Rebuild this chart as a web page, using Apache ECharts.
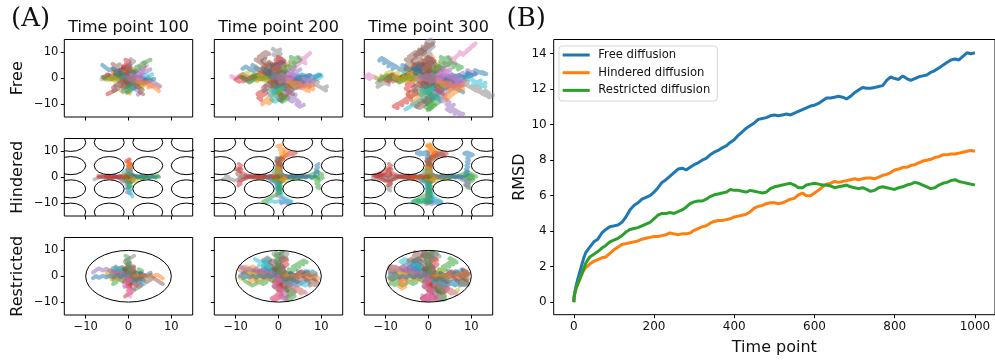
<!DOCTYPE html>
<html><head><meta charset="utf-8">
<script src="https://cdn.jsdelivr.net/npm/echarts@6/dist/echarts.min.js"></script>
<style>html,body{margin:0;padding:0;background:#fff}#c{width:995px;height:362px}</style>
</head><body><div id="c"></div>
<script>
// ---------- Panel A data ----------
const panelTimes = [100, 200, 300];          // column titles (time point)
const trajStep = 10;                          // time points between stored positions
const rowNames = ['Free', 'Hindered', 'Restricted'];
const tab10 = ['#1f77b4','#ff7f0e','#2ca02c','#d62728','#9467bd','#8c564b','#e377c2','#7f7f7f','#bcbd22','#17becf'];

// free diffusion: 1D coordinate walks (positions every 10 time points)
const FW1 = [0,0.8,1.5,0.9,1.7,2.6,2.1,1.2,1.9,2.8,2.2,3.1,4.0,3.3,2.5,3.2,4.1,4.9,4.2,5.0,5.9,5.1,4.3,5.2,6.0,6.8,6.1,7.0,7.9,7.2,8.1];
const FW2 = [0,-0.6,-1.4,-0.7,-1.5,-2.4,-1.8,-2.7,-3.5,-2.9,-3.8,-3.1,-2.3,-3.0,-2.2,-1.4,-2.1,-1.3,-0.5,-1.2,-0.4,0.4,-0.3,0.5,1.3,0.6,1.4,2.2,1.5,2.3,3.1];
const FW3 = [0,0.5,-0.4,0.3,1.1,0.4,-0.5,-1.2,-0.4,0.5,-0.3,-1.1,-0.3,0.6,1.4,0.7,1.6,2.3,1.5,0.8,1.7,2.5,1.8,1.0,0.2,0.9,0.1,-0.7,0.2,-0.6,0.3];
const FW4 = [0,-1.0,-0.3,-1.1,-1.9,-1.2,-2.0,-1.3,-0.5,-1.3,-2.1,-2.9,-2.2,-3.0,-3.8,-3.1,-2.4,-3.2,-2.5,-1.7,-2.6,-3.4,-4.2,-3.5,-4.3,-5.1,-4.4,-3.6,-4.5,-5.3,-4.6];
const FW5 = [0,0.9,0.2,1.0,1.9,2.7,3.4,2.6,3.5,4.3,3.6,4.5,5.3,6.1,5.4,6.3,5.5,4.8,5.7,6.6,7.4,8.1,7.3,8.2,9.0,9.8,9.1,10.0,10.8,10.1,11.0];
const FW6 = [0,-0.4,0.5,1.2,0.4,-0.4,0.3,1.1,0.3,-0.5,-1.3,-0.6,-1.4,-2.2,-1.5,-0.7,-1.6,-0.8,0.0,-0.8,-1.7,-2.5,-3.3,-2.6,-3.4,-2.7,-3.6,-4.4,-5.2,-4.5,-5.4];
const FW7 = [0,1.2,0.5,1.3,0.6,1.4,2.2,1.5,2.4,1.7,0.9,1.8,2.6,3.3,2.5,1.7,2.6,3.4,4.2,3.5,4.3,3.6,2.8,3.7,4.5,3.8,3.0,2.2,3.1,3.9,3.2];
const FW8 = [0,-0.7,-1.6,-2.3,-1.5,-2.4,-3.2,-4.0,-3.3,-4.2,-5.0,-5.8,-5.1,-6.0,-6.8,-7.5,-6.7,-7.6,-8.4,-9.1,-8.3,-9.2,-10.0,-9.3,-10.1,-11.0,-10.2,-11.1,-11.9,-11.2,-12.0];
const FW9 = [0,0.3,1.1,0.4,1.2,2.0,2.9,3.7,3.0,2.2,3.1,3.9,3.1,2.4,1.6,2.4,1.6,0.8,0.0,0.8,0.0,-0.8,-1.6,-0.8,-1.6,-2.4,-3.2,-2.4,-3.2,-4.0,-4.8];
const FW10 = [0,-0.9,-0.1,-0.9,-0.2,0.6,-0.2,-1.0,-1.8,-1.1,-0.3,0.5,-0.3,-1.1,-0.4,0.4,1.2,0.5,-0.3,0.4,1.3,2.1,1.3,0.6,1.4,2.2,3.1,2.3,1.6,2.4,1.7];
const FW11 = [0,0.6,1.4,2.1,2.9,2.2,1.4,2.2,3.0,3.8,4.6,3.9,3.1,2.3,3.1,3.9,4.7,5.6,4.8,4.0,3.2,4.1,4.9,5.7,5.0,4.2,3.4,4.3,5.1,4.3,3.5];
const FW12 = [0,-1.1,-1.9,-1.2,-2.0,-2.8,-3.6,-2.9,-2.1,-2.9,-3.7,-4.5,-5.3,-4.6,-3.8,-4.6,-3.8,-3.0,-3.8,-3.0,-2.2,-1.4,-2.2,-1.4,-0.6,-1.4,-0.6,0.2,-0.6,0.2,1.0];
const FW13 = [0,0.7,-0.1,-0.9,-0.2,0.6,1.4,0.7,-0.1,0.7,1.5,0.8,0.0,-0.8,-1.6,-0.9,-0.1,0.7,1.5,0.8,0.0,-0.8,-1.6,-2.4,-1.7,-0.9,-1.7,-2.5,-3.3,-2.6,-1.8];
const FW14 = [0,-0.5,0.3,-0.5,-1.3,-2.1,-1.4,-0.6,-1.4,-2.2,-3.0,-2.3,-1.5,-0.7,-1.5,-2.3,-3.1,-3.9,-4.7,-4.0,-3.2,-4.0,-4.8,-5.6,-6.4,-5.7,-4.9,-5.7,-6.5,-7.3,-6.6];
const FW15 = [0,1.0,1.8,1.1,0.3,1.1,1.9,2.7,3.5,2.8,2.0,2.8,3.6,4.4,5.2,4.5,5.3,6.1,5.4,6.2,5.5,4.7,5.5,4.7,3.9,4.7,3.9,3.1,3.9,3.1,2.3];
const FW16 = [0,-0.3,-1.1,-0.4,0.4,-0.4,-1.2,-2.0,-1.3,-0.5,0.3,-0.5,-1.3,-2.1,-2.9,-2.2,-1.4,-2.2,-3.0,-3.8,-3.1,-2.3,-1.5,-2.3,-3.1,-2.4,-1.6,-0.8,-1.6,-2.4,-1.7];
const FW17 = [0,-1.2,-2.0,-1.3,-2.4,-3.3,-4.1,-3.5,-4.6,-5.5,-6.3,-7.1,-6.4,-7.5,-8.3,-9.0,-8.2,-9.3,-10.1,-11.0,-10.3,-11.2,-12.0,-12.9,-12.1,-13.0,-13.8,-13.1,-14.0,-14.6,-13.8];
const FW18 = [0,1.1,2.0,2.8,2.1,3.2,4.0,4.9,5.6,6.5,7.4,6.6,7.5,8.3,9.2,8.5,9.4,10.3,11.1,10.4,11.3,12.1,11.4,12.3,13.1,12.4,13.3,14.1,13.4,14.2,15.0];
const FW19 = [0,-0.9,-0.1,-1.0,-1.9,-2.8,-2.1,-3.0,-3.9,-4.8,-5.6,-4.9,-5.8,-6.6,-5.9,-6.8,-7.7,-7.0,-7.9,-8.8,-8.1,-9.0,-9.9,-9.2,-10.1,-11.0,-10.3,-11.2,-10.5,-11.4,-12.3];
const FW20 = [0,0.8,1.7,2.6,3.4,2.7,3.6,4.5,5.3,4.6,5.5,6.4,7.2,6.5,7.4,8.3,9.1,8.4,9.3,10.1,9.4,10.3,11.1,10.4,11.3,12.2,11.5,12.4,13.2,12.5,13.3];
const FW21 = [0,0.4,-0.5,0.3,-0.6,0.2,1.1,0.3,1.2,0.4,-0.4,0.5,-0.3,0.6,-0.2,0.7,1.6,0.8,-0.1,0.8,0.0,-0.9,-0.1,0.8,-0.1,0.7,-0.2,0.6,1.5,0.7,-0.2];
const FW22 = [0,-0.5,0.4,-0.4,0.5,1.3,0.5,-0.4,0.4,1.3,0.5,-0.3,0.6,-0.3,-1.2,-0.4,0.5,-0.4,0.4,-0.5,-1.3,-0.5,0.4,1.2,0.4,-0.5,0.3,1.2,0.4,-0.4,0.5];
const FW23 = [0,1.3,0.6,1.8,2.9,2.1,3.3,4.4,3.7,4.9,6.0,5.2,6.4,7.3,6.6,5.8,7.0,8.1,7.4,8.6,9.7,9.0,10.1,9.3,10.5,11.6,10.9,12.0,13.1,12.4,13.5];
const FW24 = [0,-1.3,-0.5,-1.7,-2.8,-2.0,-3.2,-4.3,-5.4,-4.6,-5.8,-6.9,-6.1,-7.2,-8.3,-7.5,-8.6,-9.7,-8.9,-10.0,-9.2,-10.1,-9.3,-8.5,-9.4,-8.6,-7.8,-8.7,-7.9,-7.1,-6.3];
const FW25 = [0,-0.9,-1.8,-1.1,-2.3,-3.1,-2.6,-3.7,-4.5,-5.4,-6.1,-5.3,-6.2,-5.5,-4.8,-5.7,-6.6,-5.9,-6.8,-7.6,-8.4,-7.7,-8.6,-9.4,-8.8,-9.7,-10.4,-9.8,-10.7,-11.5,-10.9];
const FW26 = [0,0.9,1.9,2.6,3.6,4.3,5.1,4.6,5.6,6.4,7.1,6.5,7.3,8.1,7.4,8.2,7.5,6.7,7.5,6.7,5.9,6.7,5.9,5.1,5.9,5.1,4.3,5.1,4.3,3.5,4.3];
const FW27 = [0,-0.4,0.6,1.3,0.5,1.4,0.7,-0.2,0.6,-0.3,0.5,1.4,0.6,-0.3,0.5,-0.4,-1.2,-0.4,-1.3,-0.5,0.4,-0.5,0.3,-0.6,0.2,1.1,0.2,1.0,0.1,-0.8,0.1];
const FW28 = [0,0.6,-0.3,0.4,-0.5,-1.3,-0.5,0.3,-0.6,0.2,-0.7,0.1,0.9,0.0,0.8,-0.1,0.7,-0.2,0.6,1.4,0.5,-0.3,0.6,-0.2,-1.1,-0.3,-1.2,-0.4,0.4,-0.5,0.3];
const FW29 = [0,1.0,0.4,1.5,2.4,1.8,2.9,3.8,3.1,4.2,5.1,4.4,3.6,4.5,3.8,2.9,3.7,2.8,3.6,4.5,3.7,4.6,5.5,4.7,5.6,6.5,5.8,6.7,7.6,6.9,7.8];
const FW30 = [0,-1.0,-0.3,-1.4,-2.3,-1.6,-2.7,-3.6,-2.9,-4.0,-4.9,-4.2,-3.4,-4.3,-3.6,-2.8,-3.7,-2.9,-3.8,-4.7,-4.0,-4.9,-5.8,-5.0,-5.9,-6.8,-6.1,-7.0,-7.9,-7.2,-8.1];
const FW31 = [0,0.5,1.3,0.6,1.5,2.3,1.6,2.5,3.3,2.6,3.4,2.7,1.9,2.7,1.9,1.1,1.9,1.1,0.3,1.1,0.3,-0.5,0.3,-0.5,-1.3,-0.5,-1.3,-2.1,-1.3,-2.1,-2.9];
const FW32 = [0,-0.6,-1.2,-0.5,-1.6,-2.2,-1.7,-2.6,-3.1,-2.5,-3.5,-2.8,-2.0,-2.6,-1.8,-1.2,-2.0,-1.0,-0.4,-1.2,-0.2,0.6,-0.1,0.6,1.2,0.4,1.4,2.0,1.2,2.2,2.8];
const freeTraj = [[FW1,FW6],[FW2,FW7],[FW3,FW8],[FW4,FW9],[FW5,FW10],[FW6,FW11],[FW7,FW12],[FW8,FW13],
                  [FW9,FW14],[FW10,FW15],[FW11,FW16],[FW12,FW1],[FW13,FW2],[FW14,FW3],[FW15,FW4],[FW16,FW5],
                  [FW17,FW21],[FW22,FW18],[FW19,FW3],[FW20,FW13],[FW23,FW10],[FW16,FW24],[FW21,FW19],[FW24,FW22],
                  [FW1,FW17],[FW12,FW20],[FW5,FW23],[FW18,FW14],[FW9,FW2],[FW6,FW8],[FW13,FW15],[FW3,FW11],
                  [FW25,FW27],[FW28,FW26],[FW29,FW31],[FW31,FW25],[FW26,FW32],[FW27,FW29],[FW30,FW28],[FW32,FW30],
                  [FW25,FW29],[FW26,FW30],[FW29,FW26],[FW30,FW25],[FW27,FW21],[FW28,FW32],[FW31,FW27],[FW22,FW28]];

// hindered diffusion: "x,y" positions every 10 time points
const hinderedTraj = [
"0,0 0.6,-0.4 1.3,0.3 0.7,0.9 1.5,0.4 2.3,-0.2 3.0,0.5 3.8,-0.1 3.2,-0.7 2.5,-0.2 1.8,0.6 1.1,0.1 0.4,0.8 -0.3,0.2 0.2,-0.6 -0.5,-1.2 0.1,-1.9 -0.4,-2.6 0.3,-3.2 -0.2,-3.9 0.4,-4.6 -0.2,-5.3 0.5,-6.0 -0.3,-6.6 0.4,-7.3 -0.4,-7.9 0.6,-8.5 -0.5,-9.1 0.7,-9.6 -0.2,-9.9 1.0,-9.4",
"0,0 -0.5,0.6 0.3,1.2 -0.2,1.9 0.5,2.5 -0.3,3.1 0.4,3.8 -0.2,4.5 0.5,5.2 -0.3,5.9 0.4,6.6 -0.2,7.3 0.6,8.0 1.3,8.7 0.5,9.3 1.2,9.9 0.3,10.5 0.8,11.2 0.0,11.8 0.6,12.5 -0.3,12.0 0.4,11.4 1.1,10.8 0.5,10.1 1.3,9.5 2.0,9.1 1.4,8.6 0.7,9.2 -0.1,8.8 0.5,9.6 -0.2,10.2",
"0,0 0.7,0.3 1.4,-0.3 2.1,0.4 2.9,-0.2 3.6,0.5 4.3,-0.1 5.1,0.6 5.8,0.0 6.5,0.7 7.2,0.1 7.9,-0.5 8.6,0.2 9.3,-0.5 8.7,-1.2 9.4,-1.8 8.8,-2.5 9.5,-3.1 9.0,-3.8 9.6,-4.3 9.1,-3.6 8.5,-2.9 9.2,-2.3 9.9,-1.7 10.5,-1.0 9.8,-0.4 10.4,0.3 9.7,0.9 9.0,0.4 8.4,-0.3 7.8,0.3",
"0,0 0.4,0.8 -0.3,1.5 0.5,2.2 -0.2,2.9 0.6,3.5 -0.1,4.2 0.7,4.9 0.1,5.6 -0.6,6.3 0.2,7.0 0.9,7.6 1.7,8.1 2.5,8.7 3.3,9.2 2.6,9.6 3.4,8.9 4.1,9.4 3.3,8.7 2.5,9.3 1.8,8.6 1.1,9.1 1.8,9.7 2.6,9.2 3.5,9.6 4.3,9.1 3.6,8.5 2.9,9.0 2.2,8.4 1.5,8.9 0.8,8.3",
"0,0 -0.6,-0.5 0.2,-1.1 -0.4,-1.8 0.3,-2.4 -0.5,-3.0 0.2,-3.7 -0.5,-4.4 0.3,-5.1 -0.4,-5.8 0.4,-6.4 -0.3,-7.1 0.5,-7.7 1.2,-8.4 0.5,-9.0 1.3,-9.5 2.0,-9.1 2.8,-9.6 2.1,-10.1 1.4,-9.6 0.6,-10.2 -0.1,-9.7 0.7,-9.2 1.5,-9.8 2.3,-9.3 3.0,-9.9 2.3,-10.4 1.5,-9.9 0.8,-10.5 0.1,-10.0 -0.6,-10.5",
"0,0 -0.7,0.3 -1.4,-0.3 -2.1,0.4 -2.8,-0.2 -3.5,0.5 -4.2,-0.2 -4.9,0.5 -5.6,-0.1 -6.3,0.6 -7.0,0.0 -7.7,0.6 -8.4,0.0 -9.1,0.7 -9.7,1.4 -9.1,2.0 -9.6,2.7 -9.0,3.3 -9.5,2.5 -8.9,1.8 -9.6,1.1 -10.3,0.5 -11.0,1.1 -11.6,0.5 -10.9,-0.1 -10.2,0.6 -9.5,1.3 -8.8,0.7 -9.4,0.0 -10.1,-0.6 -9.4,-1.2",
"0,0 0.5,0.7 -0.2,1.3 -0.9,0.8 -1.5,0.2 -0.8,-0.4 -0.1,-0.9 0.6,-0.3 1.2,0.4 0.5,1.0 -0.2,0.5 -0.9,-0.1 -1.6,0.5 -2.3,-0.1 -1.7,-0.8 -1.0,-1.4 -0.4,-2.1 0.3,-2.7 -0.3,-3.4 0.4,-4.0 -0.2,-4.7 0.5,-5.3 -0.2,-6.0 0.5,-6.6 -0.3,-7.2 0.4,-7.9 -0.4,-8.5 -1.1,-9.0 -0.4,-9.6 0.3,-9.1 -0.5,-8.6",
"0,0 -0.8,-0.3 -1.6,0.3 -2.4,-0.3 -3.2,0.4 -4.0,-0.2 -4.8,0.4 -5.6,-0.3 -6.4,0.3 -7.2,-0.3 -8.0,-0.8 -8.8,-1.4 -9.5,-0.8 -10.3,-1.3 -11.0,-0.7 -11.7,-1.2 -12.4,-0.6 -13.0,-0.8 -12.3,-0.3 -11.6,0.1 -12.3,0.6 -13.0,0.0 -12.3,-0.6 -11.5,-0.1 -10.8,-0.7 -10.1,-0.2 -10.8,0.4 -11.5,-0.2 -12.2,0.4 -11.5,0.9 -10.8,0.3",
"0,0 0.8,0.3 1.6,-0.4 2.3,0.2 3.1,-0.5 3.9,0.1 4.7,-0.4 4.0,0.5 3.2,-0.1 2.4,0.6 1.6,-0.2 0.9,0.5 0.1,-0.3 -0.7,0.5 -1.4,-0.4 -2.2,0.3 -3.0,-0.5 -3.8,0.2 -4.6,-0.4 -5.4,0.3 -4.7,-0.5 -3.9,0.2 -3.1,-0.6 -2.3,0.1 -1.5,-0.5 -0.8,0.3 0.0,-0.4 0.8,0.4 1.6,-0.3 2.4,0.5 3.2,-0.2",
"0,0 0.3,-0.8 -0.4,-1.5 0.4,-2.2 -0.3,-2.9 0.5,-3.6 -0.2,-4.3 0.6,-5.0 -0.1,-5.7 0.7,-6.4 0.9,-7.6 1.6,-8.3 2.4,-8.8 3.1,-9.4 2.3,-9.9 1.6,-9.3 0.8,-9.8 0.0,-9.2 -0.8,-9.7 -1.5,-9.1 -2.3,-9.6 -3.0,-9.0 -3.8,-9.5 -3.1,-8.9 -2.3,-9.4 -1.5,-8.8 -0.7,-9.3 0.1,-8.8 0.9,-9.3 1.7,-8.8 1.0,-8.2",
"0,0 -0.6,0.5 -1.3,-0.1 -2.0,0.5 -2.7,0.0 -3.4,0.6 -2.7,0.1 -2.0,0.7 -1.3,0.2 -0.6,0.8 -0.1,1.5 0.5,2.1 -0.2,2.7 0.4,3.3 -0.3,3.9 0.4,4.5 -0.3,5.1 0.4,5.7 -0.4,6.3 0.3,6.9 -0.5,7.5 0.2,8.1 -0.6,8.7 -1.3,9.2 -2.1,8.7 -2.8,9.3 -2.1,9.8 -1.4,9.3 -0.7,9.8 0.0,9.3 -0.7,8.8",
"0,0 0.5,-0.6 1.2,0.0 0.6,0.6 -0.1,1.2 0.6,1.8 -0.1,2.4 0.6,3.0 -0.1,3.6 0.6,4.2 -0.1,4.8 0.6,5.4 -0.1,6.0 0.6,6.6 1.3,7.2 0.6,7.8 1.3,8.4 2.0,9.0 1.4,9.7 2.1,10.3 1.5,11.0 0.8,11.6 0.9,12.2 0.2,12.9 -0.4,12.3 0.3,11.7 1.0,11.1 0.4,10.5 1.1,9.9 1.8,9.4 1.1,8.8",
"0,0 0.7,-0.3 1.4,0.3 2.1,-0.3 2.8,0.3 3.5,-0.3 4.2,0.3 4.9,-0.3 5.6,0.3 6.3,-0.2 7.0,0.4 7.7,1.0 8.4,1.6 9.0,2.3 9.6,1.6 10.3,1.0 9.7,0.4 10.4,-0.2 9.8,-0.8 9.1,-0.2 8.4,0.4 7.7,0.9 8.4,1.5 9.1,0.9 9.8,1.5 10.5,0.9 11.2,0.3 10.5,-0.3 9.8,0.3 9.1,-0.3 8.4,0.3",
"0,0 -0.7,-0.4 -1.4,0.2 -2.1,-0.4 -2.9,0.3 -3.6,-0.3 -4.3,0.4 -5.0,-0.2 -5.7,0.5 -6.4,-0.1 -7.1,0.5 -7.8,1.1 -8.5,1.7 -9.2,2.4 -8.6,3.1 -9.3,3.8 -8.7,4.5 -9.3,5.2 -8.8,4.4 -9.4,3.6 -10.1,3.0 -10.6,2.2 -11.5,1.4 -12.2,1.0 -12.9,0.7 -12.2,0.1 -11.5,0.7 -10.8,1.3 -10.1,1.9 -9.4,2.5 -8.7,1.9",
"0,0 0.6,0.4 1.2,-0.2 0.5,-0.8 1.1,-1.4 0.4,-1.9 -0.3,-1.3 -1.0,-0.7 -1.7,-1.2 -1.1,-1.8 -0.4,-1.3 0.3,-0.7 1.0,-0.1 1.7,0.5 2.4,0.0 3.1,0.6 3.8,0.1 4.5,0.7 5.2,0.1 5.9,0.7 6.6,0.1 7.3,-0.5 8.0,-1.1 8.7,-1.7 9.3,-2.4 8.7,-3.1 9.3,-3.8 8.8,-3.0 9.4,-2.3 8.8,-1.6 9.5,-0.9",
"0,0 -0.3,0.7 0.4,1.3 1.0,0.8 1.6,0.2 1.0,-0.4 0.3,0.2 -0.4,-0.4 -1.1,0.2 -0.5,0.8 0.2,1.4 -0.4,2.0 0.3,2.6 -0.4,3.2 0.3,3.8 -0.4,4.4 0.4,5.0 -0.3,5.6 0.5,6.2 1.2,6.8 0.5,7.4 1.2,8.0 2.0,8.6 2.8,9.2 3.6,8.7 2.9,8.2 2.2,8.8 1.4,8.3 2.1,7.8 1.4,7.3 0.7,7.8",
"0,0 0.5,0.5 -0.2,1.0 -0.8,0.4 -1.3,-0.3 -0.7,-0.9 0.0,-0.4 0.6,-1.0 1.2,-0.4 0.6,0.2 -0.1,0.8 -0.7,1.4 -0.1,2.0 0.5,1.4 1.1,0.8 1.7,0.2 1.1,-0.4 0.4,-1.0 -0.3,-1.6 -1.0,-1.0 -1.7,-0.4 -2.4,0.2 -1.8,0.8 -1.1,0.3 -0.4,-0.3 0.3,0.3 1.0,-0.3 1.7,0.3 2.4,-0.3 3.1,0.3 3.8,-0.3",
"0,0 -0.5,-0.5 0.1,-1.1 0.7,-0.6 1.3,-1.2 0.7,-1.8 0.1,-1.3 -0.5,-1.9 -1.1,-1.3 -1.7,-0.7 -2.3,-0.1 -3.0,0.4 -3.7,-0.2 -4.4,0.4 -5.1,-0.2 -5.8,0.4 -6.5,-0.2 -7.2,0.4 -7.9,-0.2 -8.6,0.4 -9.2,-0.3 -8.6,-1.0 -9.2,-1.7 -8.7,-2.4 -9.3,-3.1 -8.8,-3.8 -9.4,-4.5 -8.9,-5.2 -9.5,-4.6 -9.0,-3.9 -9.6,-3.2",
"0,0 0.4,-0.6 -0.3,-1.1 -0.9,-0.5 -0.3,0.1 0.4,0.6 1.0,0.0 1.6,-0.6 2.2,-1.2 1.6,-1.8 0.9,-1.3 0.3,-0.7 -0.4,-0.1 -1.0,0.5 -0.4,1.1 0.3,1.7 -0.3,2.3 0.4,2.9 -0.3,3.5 -0.9,2.9 -0.3,2.3 0.4,1.7 1.0,1.1 1.6,0.5 2.2,-0.1 2.9,0.5 3.6,-0.1 4.3,0.5 5.0,-0.1 4.3,-0.7 3.6,-0.1",
"0,0 -0.6,0.3 -0.1,0.9 0.5,1.4 -0.1,2.0 0.6,2.6 -0.1,3.2 -0.7,2.6 -1.3,2.0 -0.7,1.4 -1.3,0.8 -2.0,0.3 -2.7,-0.3 -2.0,-0.8 -1.3,-1.4 -0.6,-2.0 0.1,-2.6 -0.5,-3.2 0.2,-3.8 -0.4,-4.4 0.3,-5.0 -0.4,-5.6 0.3,-6.2 1.0,-6.8 0.3,-7.4 1.0,-8.0 0.3,-8.6 -0.4,-9.2 -1.1,-8.7 -1.8,-9.3 -2.5,-8.8",
"0,0 0.3,0.7 1.0,1.1 1.5,0.5 2.2,0.0 2.9,0.5 3.6,-0.1 4.3,0.5 5.0,-0.1 5.7,0.5 6.4,-0.1 7.1,0.5 7.8,-0.1 8.5,0.5 9.2,1.1 8.6,1.7 9.2,2.4 8.7,3.1 9.3,3.8 8.8,4.5 9.4,5.2 8.9,5.9 9.5,6.6 9.0,7.3 9.6,8.0 9.0,8.7 8.3,9.2 9.0,9.7 9.7,9.2 10.4,8.7 9.7,8.2",
"0,0 -0.4,-0.6 0.3,-1.1 1.0,-0.6 0.4,0.0 -0.3,0.6 -1.0,1.1 -1.6,0.5 -1.0,-0.1 -0.4,-0.7 0.3,-1.2 1.0,-0.7 1.7,-0.2 1.0,0.4 0.3,1.0 -0.4,1.5 0.3,2.1 -0.4,2.7 0.3,3.3 -0.4,3.9 0.3,3.3 -0.3,2.7 0.4,2.1 -0.2,1.5 -0.9,0.9 -1.6,0.3 -2.3,-0.3 -3.0,0.3 -3.7,-0.3 -3.0,-0.9 -2.3,-0.3",
"0,0 0.6,0.2 0.0,0.8 -0.6,0.2 -1.2,-0.4 -0.6,-1.0 0.0,-1.6 0.6,-2.2 0.0,-2.8 0.6,-3.4 -0.1,-4.0 0.6,-4.6 -0.1,-5.2 0.6,-5.8 -0.1,-6.4 -0.8,-7.0 -1.5,-7.6 -2.2,-8.2 -2.9,-8.8 -3.6,-9.4 -2.9,-9.9 -2.2,-9.4 -1.5,-9.9 -0.8,-9.4 -0.1,-9.9 0.6,-9.4 -0.1,-8.9 -0.8,-8.4 -0.1,-7.9 0.6,-7.4 -0.1,-6.9",
"0,0 -0.5,0.4 -1.1,-0.1 -1.7,0.4 -2.3,-0.1 -2.9,0.4 -3.5,-0.2 -4.1,0.4 -4.7,-0.2 -5.3,0.4 -4.7,0.8 -5.3,0.4 -6.0,-0.1 -6.7,0.5 -7.4,-0.1 -8.1,-0.6 -8.8,-1.2 -9.4,-1.9 -8.8,-2.5 -9.4,-3.2 -8.8,-2.5 -9.5,-1.9 -10.2,-1.3 -10.9,-0.7 -11.6,-0.1 -12.3,0.5 -11.6,1.0 -10.9,0.5 -10.2,1.0 -9.5,0.4 -8.8,1.0"
];
// hindered obstacles (circle centres and radius, data units)
const obstacleX = [-13.5, -4.5, 4.5, 13.5];
const obstacleY = [-13.5, -4.5, 4.5, 13.5];
const obstacleR = 3.5;

// restricted diffusion: 1D coordinate walks
const RW1 = [0,0.8,1.6,0.9,1.8,2.6,3.4,2.7,3.6,4.4,5.2,4.5,5.4,6.2,7.0,6.3,7.1,7.9,8.6,7.9,8.7,9.2,8.5,7.7,8.5,9.1,8.4,7.6,8.3,9.0,8.2];
const RW2 = [0,-0.7,-1.5,-2.3,-1.6,-2.5,-3.3,-4.1,-3.4,-4.3,-5.1,-5.9,-5.2,-6.0,-6.8,-7.6,-6.9,-7.7,-8.5,-9.1,-8.4,-7.6,-8.3,-9.0,-8.2,-7.4,-8.1,-8.9,-9.2,-8.5,-7.7];
const RW3 = [0,0.6,-0.2,-1.0,-1.8,-1.1,-1.9,-2.7,-3.5,-2.8,-3.6,-4.4,-5.2,-4.5,-5.3,-6.1,-6.9,-6.2,-7.0,-7.8,-7.1,-7.9,-8.6,-7.9,-7.1,-6.3,-7.0,-7.8,-8.5,-9.0,-8.2];
const RW4 = [0,-0.5,0.3,1.1,1.9,1.2,2.0,2.8,3.6,2.9,3.7,4.5,3.8,4.6,5.4,6.2,5.5,6.3,7.1,6.4,7.2,8.0,8.7,8.0,8.8,9.3,8.6,7.8,7.1,7.9,8.6];
const RW5 = [0,-1.0,-1.9,-2.7,-3.6,-4.4,-5.2,-6.0,-6.9,-7.6,-8.3,-7.6,-8.4,-9.0,-8.3,-7.5,-8.2,-8.9,-8.1,-7.3,-8.0,-8.7,-9.2,-8.5,-7.7,-8.4,-9.1,-8.4,-7.6,-8.3,-9.0];
const RW6 = [0,0.9,1.8,2.6,3.5,4.3,5.0,5.8,6.6,7.3,8.0,7.3,8.1,8.8,8.1,7.3,8.0,8.7,9.3,8.6,7.8,8.5,9.2,8.5,7.7,8.4,9.1,8.4,7.6,8.3,9.0];
const RW7 = [0,0.7,1.5,2.4,3.2,4.1,4.9,5.6,6.4,7.2,7.9,8.6,7.9,8.7,9.2,8.5,7.7,8.4,9.1,8.3,7.5,8.2,8.9,8.1,7.3,8.0,8.8,9.3,8.6,7.8,8.5];
const RW8 = [0,-0.8,-1.6,-2.5,-3.3,-4.0,-4.8,-5.5,-6.3,-7.0,-7.8,-8.5,-7.8,-8.6,-9.2,-8.5,-7.7,-8.4,-9.1,-8.3,-7.6,-8.3,-9.0,-8.2,-7.5,-8.2,-8.9,-9.3,-8.6,-7.9,-8.6];
const RN1 = [0,0.7,-0.1,0.6,1.4,0.7,-0.1,-0.9,-0.2,0.6,1.3,2.1,1.4,0.6,1.3,2.0,1.2,0.4,1.1,1.9,1.1,0.3,-0.5,0.2,-0.6,-1.4,-0.7,0.1,-0.7,-1.5,-0.8];
const RN2 = [0,-0.8,-1.5,-0.7,-1.4,-2.2,-1.5,-0.7,-1.5,-2.3,-3.0,-2.2,-1.4,-2.1,-2.9,-3.6,-2.8,-3.5,-2.7,-1.9,-2.6,-3.4,-2.6,-1.8,-2.5,-3.2,-2.4,-1.6,-2.3,-3.0,-2.2];
const RN3 = [0,0.4,1.2,2.0,1.3,2.1,2.9,2.2,3.0,2.3,1.5,2.3,3.1,3.8,3.1,2.3,3.0,3.8,3.1,2.3,1.6,2.4,3.2,3.9,3.2,2.4,1.7,2.5,3.3,2.6,1.9];
const RN4 = [0,-0.3,0.5,-0.3,-1.1,-0.4,0.4,1.2,0.5,-0.3,0.4,-0.4,0.3,1.1,1.9,1.2,0.4,-0.4,-1.2,-0.5,0.3,1.1,1.9,2.6,1.9,1.1,0.4,-0.4,0.3,1.0,0.2];
const RN5 = [0,0.5,-0.3,0.4,-0.4,0.3,-0.5,0.2,-0.6,0.1,-0.7,0.0,0.8,0.1,0.9,0.2,1.0,0.3,-0.5,0.2,1.0,0.3,-0.5,-1.3,-0.6,0.2,-0.6,0.1,0.9,0.2,1.0];
const RN6 = [0,-0.4,0.4,-0.3,0.5,-0.2,0.6,-0.1,0.7,0.0,-0.8,0.0,-0.8,-1.6,-0.8,0.0,0.8,0.0,-0.8,0.0,0.8,1.6,0.8,0.0,0.8,1.6,0.8,0.0,-0.8,0.0,0.8];
const RM1 = [0,0.9,0.2,1.0,1.8,1.1,0.3,1.1,1.9,2.7,2.0,2.8,3.6,4.4,3.7,4.5,5.3,4.6,5.4,6.1,5.4,6.2,6.9,6.2,5.5,6.3,6.9,6.2,5.4,6.1,6.8];
const RM2 = [0,-0.6,-1.4,-0.7,-1.5,-2.3,-3.1,-2.4,-3.2,-4.0,-3.3,-4.1,-4.9,-4.2,-5.0,-5.8,-5.1,-5.9,-6.6,-5.9,-6.7,-6.0,-5.2,-6.0,-6.8,-6.1,-5.3,-6.1,-6.9,-6.2,-5.4];
const RM3 = [0,0.5,-0.3,-1.1,-0.4,-1.2,-2.0,-1.3,-2.1,-2.9,-3.7,-3.0,-2.2,-3.0,-3.8,-4.6,-3.9,-3.1,-3.9,-4.7,-5.5,-4.8,-5.6,-6.3,-5.6,-4.8,-4.1,-4.9,-5.7,-6.5,-5.8];
const RM4 = [0,-0.9,-0.2,0.6,1.4,2.2,1.5,2.3,3.1,2.4,3.2,4.0,3.3,4.1,4.9,4.2,5.0,5.8,5.1,5.9,6.6,5.9,5.1,5.8,6.5,5.8,5.0,5.7,6.4,5.7,4.9];
const RM5 = [0,0.3,1.1,0.4,-0.4,0.3,1.1,0.4,-0.4,-1.2,-0.5,0.3,1.1,0.4,-0.4,-1.2,-2.0,-1.3,-0.5,-1.3,-2.1,-2.9,-2.2,-3.0,-3.8,-3.1,-2.3,-3.1,-3.9,-4.7,-4.0];
const RM6 = [0,-0.4,0.4,1.2,0.5,-0.3,-1.1,-0.4,0.4,1.2,2.0,1.3,0.5,-0.3,0.4,1.2,2.0,2.8,2.1,1.3,2.1,2.9,3.7,3.0,2.2,3.0,3.8,4.6,3.9,3.1,3.9];
const restrictedTraj = [[RW1,RN1],[RW2,RN3],[RW3,RN2],[RW4,RN4],[RN1,RW2],[RN2,RW4],[RN3,RW3],[RN4,RW1],
                        [RM1,RM2],[RM3,RM4],[RM5,RM6],[RM2,RM5],[RM4,RM1],[RM6,RM3],[RM1,RN2],[RN4,RM3],
                        [RM2,RN1],[RN3,RM5],[RM6,RN4],[RN2,RM4],[RW1,RN4],[RW3,RN1],[RN3,RW2],[RN1,RW4],
                        [RM3,RM6],[RM5,RM1],[RM4,RM2],[RM6,RM5],[RW2,RN4],[RW4,RN2],
                        [RW5,RN5],[RW6,RN6],[RN5,RW7],[RN6,RW8],[RW5,RN3],[RW6,RN2],[RN4,RW8],[RN1,RW7]];
const boundaryR = 10;

// ---------- Panel B data ----------
const rmsdTime = [0,1,3,6,10,15,20,25,30,
 40,50,60,70,80,90,100,110,120,130, 140,150,160,170,180,190,200,210,220,230,
 240,250,260,270,280,290,300,310,320,330, 340,350,360,370,380,390,400,410,420,430,
 440,450,460,470,480,490,500,510,520,530, 540,550,560,570,580,590,600,610,620,630,
 640,650,660,670,680,690,700,710,720,730, 740,750,760,770,780,790,800,810,820,830,
 840,850,860,870,880,890,900,910,920,930, 940,950,960,970,980,990,1000];
const freeRmsd = [0,0.35,0.6,0.95,1.3,1.7,2.1,2.5,2.8,
 3.1,3.4,3.55,3.9,4.1,4.25,4.3,4.35,4.5,4.8, 5.2,5.45,5.6,5.8,5.9,6.0,6.2,6.45,6.75,6.9,
 7.1,7.3,7.5,7.55,7.45,7.6,7.75,7.85,8.0,8.1, 8.3,8.45,8.55,8.7,8.8,9.0,9.15,9.4,9.6,9.8,
 9.95,10.1,10.3,10.35,10.4,10.5,10.55,10.5,10.55,10.6, 10.55,10.65,10.75,10.85,10.95,11.05,11.1,11.2,11.35,11.5,
 11.5,11.55,11.6,11.55,11.45,11.6,11.8,11.95,12.1,12.05, 12.05,12.1,12.15,12.2,12.5,12.7,12.6,12.55,12.75,12.6,
 12.5,12.6,12.7,12.75,12.8,12.95,13.05,13.2,13.35,13.5, 13.65,13.7,13.65,13.85,14.05,14.0,14.05];
const hinderedRmsd = [0,0.3,0.55,0.8,1.0,1.3,1.55,1.8,1.95,
 2.15,2.3,2.4,2.5,2.55,2.75,2.95,3.1,3.25,3.3, 3.35,3.4,3.45,3.55,3.6,3.65,3.7,3.7,3.75,3.8,
 3.9,3.85,3.8,3.85,3.85,3.9,4.05,4.15,4.25,4.3, 4.45,4.55,4.6,4.6,4.65,4.7,4.8,4.85,4.9,4.95,
 5.1,5.3,5.4,5.45,5.55,5.6,5.6,5.55,5.6,5.7, 5.8,5.85,6.05,6.15,6.0,6.0,6.15,6.3,6.5,6.65,
 6.7,6.8,6.75,6.8,6.85,6.9,6.95,6.9,6.95,7.0, 7.0,6.95,7.05,7.15,7.2,7.3,7.45,7.5,7.6,7.6,
 7.7,7.75,7.85,7.95,8.0,8.05,8.15,8.2,8.3,8.3, 8.35,8.35,8.4,8.45,8.5,8.55,8.5];
const restrictedRmsd = [0,0.3,0.55,0.8,1.05,1.3,1.6,1.9,2.2,
 2.55,2.7,2.85,3.05,3.2,3.4,3.5,3.6,3.75,3.95, 4.1,4.15,4.2,4.3,4.4,4.5,4.7,4.9,5.0,5.0,
 5.05,5.0,5.1,5.2,5.35,5.55,5.65,5.7,5.7,5.8, 5.95,6.05,6.1,6.15,6.2,6.35,6.3,6.3,6.25,6.2,
 6.3,6.25,6.2,6.15,6.2,6.4,6.5,6.55,6.6,6.65, 6.7,6.6,6.45,6.45,6.6,6.65,6.7,6.65,6.6,6.6,
 6.55,6.45,6.5,6.55,6.6,6.5,6.45,6.4,6.45,6.35, 6.25,6.3,6.45,6.5,6.45,6.4,6.35,6.45,6.5,6.6,
 6.65,6.75,6.7,6.6,6.5,6.4,6.45,6.6,6.7,6.75, 6.85,6.9,6.8,6.75,6.7,6.65,6.6];
const seriesNames = ['Free diffusion', 'Hindered diffusion', 'Restricted diffusion'];
const seriesColors = ['#1f77b4', '#ff7f0e', '#2ca02c'];
const xTicksB = [0, 200, 400, 600, 800, 1000];
const yTicksB = [0, 2, 4, 6, 8, 10, 12, 14];
const ticksA = [-10, 0, 10];

// ---------- build ----------
const FONT = '"DejaVu Sans", sans-serif';
const minus = v => (v < 0 ? '\u2212' + (-v) : String(v));
const toPairs = s => s.split(' ').map(p => p.split(',').map(Number));
const zipXY = (xs, ys) => xs.map((x, i) => [x, ys[i]]);

const conditions = [
  freeTraj.map(t => zipXY(t[0], t[1])),
  hinderedTraj.map(toPairs),
  restrictedTraj.map(t => zipXY(t[0], t[1]))
];
const trajWidth = [4.2, 3.6, 4.0];
const obstacles = [];
obstacleX.forEach(cx => obstacleY.forEach(cy => obstacles.push([cx, cy, obstacleR])));
const boundary = [[0, 0, boundaryR]];

const gridLeft = [64.3, 214.3, 364.3], gridTop = [39.5, 138.5, 237.5];
const GW = 128.4, GH = 77.5;
const grids = [], xAxes = [], yAxes = [], series = [], graphics = [];

function circleItem(params, api) {
  const c = api.coord([api.value(0), api.value(1)]);
  const s = api.size([api.value(2), api.value(2)]);
  const rx = s[0], ry = s[1];
  return {
    type: 'path',
    shape: { pathData: `M${c[0]-rx} ${c[1]}A${rx} ${ry} 0 1 0 ${c[0]+rx} ${c[1]}A${rx} ${ry} 0 1 0 ${c[0]-rx} ${c[1]}Z` },
    style: { fill: 'none', stroke: '#000', lineWidth: 1 }
  };
}

for (let r = 0; r < 3; r++) {
  for (let c = 0; c < 3; c++) {
    const g = r * 3 + c;
    grids.push({ left: gridLeft[c], top: gridTop[r], width: GW, height: GH, show: true,
      borderColor: '#000', borderWidth: 1, backgroundColor: 'transparent', containLabel: false });
    const axisCommon = (showLabel) => ({
      type: 'value', gridIndex: g, min: -15, max: 15,
      axisLine: { show: false, onZero: false }, splitLine: { show: false },
      axisTick: { show: true, inside: false, length: 3.5, customValues: ticksA, lineStyle: { color: '#000', width: 1 } },
      axisLabel: { show: showLabel, customValues: ticksA, formatter: minus, fontFamily: FONT, fontSize: 11.5, color: '#111', margin: 6 }
    });
    xAxes.push(Object.assign(axisCommon(r === 2), { position: 'bottom' }));
    yAxes.push(Object.assign(axisCommon(c === 0), { position: 'left' }));
    const last = panelTimes[c] / trajStep;
    conditions[r].forEach((pts, k) => {
      series.push({
        type: 'line', xAxisIndex: g, yAxisIndex: g, data: pts.slice(0, last + 1),
        symbol: 'none', showSymbol: false, silent: true, z: 2, clip: true,
        lineStyle: { width: trajWidth[r], color: tab10[k % 10], opacity: 0.5, join: 'round', cap: 'round' }
      });
    });
    if (r > 0) {
      series.push({ type: 'custom', xAxisIndex: g, yAxisIndex: g, clip: true, silent: true, z: 4,
        data: r === 1 ? obstacles : boundary, renderItem: circleItem });
    }
  }
}
// panel titles and row labels
panelTimes.forEach((t, c) => graphics.push({ type: 'text', x: gridLeft[c] + GW / 2, y: 27.5,
  style: { text: 'Time point ' + t, font: '16px ' + FONT, fill: '#111', align: 'center', verticalAlign: 'middle' } }));
rowNames.forEach((n, r) => graphics.push({ type: 'text', x: 18, y: gridTop[r] + GH / 2, rotation: Math.PI / 2,
  style: { text: n, font: '16px ' + FONT, fill: '#111', align: 'center', verticalAlign: 'middle' } }));
graphics.push({ type: 'text', x: 11, y: 19, style: { text: '(A)', font: '26px "DejaVu Serif", serif', fill: '#111', verticalAlign: 'middle' } });
graphics.push({ type: 'text', x: 506.5, y: 19, style: { text: '(B)', font: '26px "DejaVu Serif", serif', fill: '#111', verticalAlign: 'middle' } });

// panel B
grids.push({ left: 553.7, top: 39.5, width: 442, height: 275.2, show: true, borderColor: '#000', borderWidth: 1, backgroundColor: 'transparent' });
xAxes.push({ type: 'value', gridIndex: 9, min: -50, max: 1050, position: 'bottom',
  name: 'Time point', nameLocation: 'middle', nameGap: 25, nameTextStyle: { fontFamily: FONT, fontSize: 16, color: '#111' },
  axisLine: { show: false, onZero: false }, splitLine: { show: false },
  axisTick: { show: true, length: 3.5, customValues: xTicksB, lineStyle: { color: '#000' } },
  axisLabel: { customValues: xTicksB, formatter: v => String(v), fontFamily: FONT, fontSize: 12, color: '#111', margin: 6 } });
yAxes.push({ type: 'value', gridIndex: 9, min: -0.705, max: 14.8, position: 'left',
  name: 'RMSD', nameLocation: 'middle', nameGap: 25, nameTextStyle: { fontFamily: FONT, fontSize: 16, color: '#111' },
  axisLine: { show: false, onZero: false }, splitLine: { show: false },
  axisTick: { show: true, length: 3.5, customValues: yTicksB, lineStyle: { color: '#000' } },
  axisLabel: { customValues: yTicksB, formatter: v => String(v), fontFamily: FONT, fontSize: 12, color: '#111', margin: 7 } });
[freeRmsd, hinderedRmsd, restrictedRmsd].forEach((vals, i) => {
  series.push({ type: 'line', name: seriesNames[i], xAxisIndex: 9, yAxisIndex: 9,
    data: rmsdTime.map((t, j) => [t, vals[j]]), symbol: 'none', showSymbol: false, z: 3,
    lineStyle: { width: 3, color: seriesColors[i] }, itemStyle: { color: seriesColors[i] } });
});

const chart = echarts.init(document.getElementById('c'), null, { renderer: 'canvas' });
chart.setOption({
  animation: false,
  backgroundColor: '#fff',
  grid: grids, xAxis: xAxes, yAxis: yAxes, series: series, graphic: graphics,
  legend: { data: seriesNames, orient: 'vertical', left: 559, top: 46, icon: 'rect', itemWidth: 27, itemHeight: 3,
    itemGap: 3.7, padding: [2, 7, 3.6, 3.7], backgroundColor: '#fff', borderColor: '#d5d5d5', borderWidth: 1, borderRadius: 3,
    textStyle: { fontFamily: FONT, fontSize: 11.6, color: '#111', lineHeight: 14, padding: [0, 0, 0, 3.6] }, selectedMode: false }
});
</script></body></html>
